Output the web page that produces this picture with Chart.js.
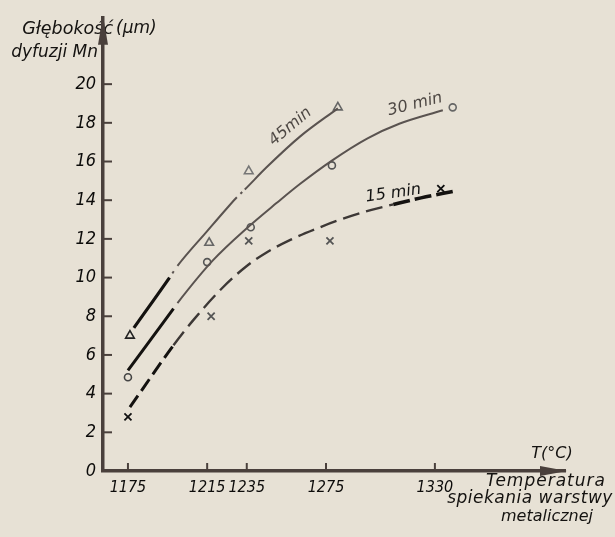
<!DOCTYPE html>
<html><head><meta charset="utf-8">
<script src="https://cdn.jsdelivr.net/npm/chart.js@4"></script>
<style>html,body{margin:0;padding:0;background:#e7e1d5;}#wrap{width:615px;height:537px;}</style>
</head><body><div id="wrap"><canvas id="c" width="615" height="537"></canvas></div>
<script>
// ---- data ----
const xTicks = [1175, 1215, 1235, 1275, 1330];
const yTicks = [0, 2, 4, 6, 8, 10, 12, 14, 16, 18, 20];

const curve45X = [1178, 1196, 1200, 1215, 1226, 1230, 1234, 1245, 1262, 1281];
const curve45Y = [7.4, 10.0, 10.6, 12.4, 13.7, 14.15, 14.55, 15.7, 17.3, 18.75];
const curve30X = [1175, 1198, 1200, 1218, 1235, 1250, 1262, 1278, 1296, 1312, 1334];
const curve30Y = [5.2, 8.4, 8.68, 10.9, 12.55, 13.85, 14.85, 16.05, 17.2, 17.95, 18.65];
const curve15X = [1176, 1198, 1208, 1223, 1235, 1245, 1257, 1272, 1281, 1298, 1309, 1323, 1339];
const curve15Y = [3.3, 6.5, 7.8, 9.5, 10.6, 11.3, 11.95, 12.6, 12.95, 13.5, 13.78, 14.12, 14.45];

const pts45X = [1176, 1216, 1236, 1281];
const pts45Y = [7.0, 11.8, 15.5, 18.8];
const pts30X = [1175, 1215, 1237, 1278, 1339];
const pts30Y = [4.85, 10.8, 12.6, 15.8, 18.8];
const pts15X = [1175, 1217, 1236, 1277, 1333];
const pts15Y = [2.8, 8.0, 11.9, 11.9, 14.6];

const seriesLabels = ['45min', '30 min', '15 min'];
const seriesLabelPos = [[1257, 17.8, -40], [1320, 18.95, -14], [1309, 14.35, -8]];

// ---- style ----
const axisColor = '#4a403c';
const FONT = "'DejaVu Sans', 'Liberation Sans', sans-serif";
const FONTC = "'DejaVu Sans Condensed', 'DejaVu Sans', sans-serif";
const xy = (xs, ys) => xs.map((x, i) => ({x, y: ys[i]}));

const decor = {
  id: 'decor',
  beforeDraw(chart) {
    const ctx = chart.ctx;
    ctx.save();
    ctx.fillStyle = '#141210';
    ctx.font = 'italic 17.5px ' + FONT;
    ctx.textBaseline = 'middle';
    ctx.textAlign = 'right';
    ctx.fillText('Głębokość', 113, 29);
    ctx.font = 'italic 17px ' + FONT;
    ctx.fillText('dyfuzji Mn', 98, 53);
    ctx.textAlign = 'left';
    ctx.fillText('(μm)', 116, 29);
    ctx.restore();
  },
  afterDraw(chart) {
    const {ctx, chartArea: a, scales: {x, y}} = chart;
    ctx.save();
    ctx.strokeStyle = axisColor; ctx.lineWidth = 2;
    yTicks.forEach(v => { if (v === 0) return; const py = y.getPixelForValue(v);
      ctx.beginPath(); ctx.moveTo(a.left, py); ctx.lineTo(a.left + 9, py); ctx.stroke(); });
    xTicks.forEach(v => { const px = x.getPixelForValue(v);
      ctx.beginPath(); ctx.moveTo(px, a.bottom); ctx.lineTo(px, a.bottom - 8); ctx.stroke(); });
    ctx.fillStyle = axisColor;
    ctx.beginPath(); ctx.moveTo(a.left, a.top - 2); ctx.lineTo(a.left - 5, a.top + 27); ctx.lineTo(a.left + 5, a.top + 27); ctx.closePath(); ctx.fill();
    ctx.beginPath(); ctx.moveTo(a.right + 2, a.bottom); ctx.lineTo(a.right - 25, a.bottom - 5); ctx.lineTo(a.right - 25, a.bottom + 5); ctx.closePath(); ctx.fill();

    ctx.fillStyle = '#141210';
    ctx.textAlign = 'center'; ctx.textBaseline = 'middle';
    ctx.font = 'italic 16px ' + FONT;
    ctx.fillText('T(°C)', 552, 454);
    ctx.font = 'italic 17px ' + FONT;
    ctx.letterSpacing = '1px';
    ctx.fillText('Temperatura', 546, 482);
    ctx.letterSpacing = '0.5px';
    ctx.fillText('spiekania warstwy', 530, 499);
    ctx.letterSpacing = '0px';
    ctx.font = 'italic 16px ' + FONT;
    ctx.fillText('metalicznej', 547, 517);

    const cols = ['#4e4844', '#4e4844', '#111'];
    seriesLabels.forEach((t, i) => {
      const [dx, dy, rot] = seriesLabelPos[i];
      ctx.save();
      ctx.translate(x.getPixelForValue(dx), y.getPixelForValue(dy));
      ctx.rotate(rot * Math.PI / 180);
      ctx.fillStyle = cols[i];
      ctx.font = 'italic 16px ' + FONT;
      ctx.fillText(t, 0, 0);
      ctx.restore();
    });
    ctx.restore();
  }
};

const lineBase = {showLine: true, pointRadius: 0, fill: false, cubicInterpolationMode: 'monotone', borderColor: '#5a5350', borderWidth: 2};

new Chart(document.getElementById('c'), {
  type: 'scatter',
  data: {datasets: [
    Object.assign({}, lineBase, {data: xy(curve45X, curve45Y), segment: {
      borderColor: c => c.p0.parsed.x < 1196 ? '#141210' : '#5a5350',
      borderWidth: c => c.p0.parsed.x < 1196 ? 3.2 : 2,
      borderDash: c => (c.p0.parsed.x === 1196 || c.p0.parsed.x === 1230) ? [0, 5, 2.5, 60] : []
    }}),
    Object.assign({}, lineBase, {data: xy(curve30X, curve30Y), segment: {
      borderColor: c => c.p0.parsed.x < 1198 ? '#141210' : (c.p0.parsed.x === 1198 ? 'rgba(0,0,0,0)' : '#5a5350'),
      borderWidth: c => c.p0.parsed.x < 1198 ? 3 : 2
    }}),
    Object.assign({}, lineBase, {data: xy(curve15X, curve15Y), segment: {
      borderColor: c => (c.p0.parsed.x < 1198 || c.p0.parsed.x >= 1309) ? '#141210' : '#3d3836',
      borderWidth: c => c.p0.parsed.x < 1198 ? 3 : (c.p0.parsed.x >= 1309 ? 3.5 : 2.4),
      borderDash: c => c.p0.parsed.x < 1198 ? [14, 6] : (c.p0.parsed.x >= 1309 ? [17, 5] : [17, 7])
    }}),
    {data: xy(pts45X, pts45Y), pointStyle: 'triangle', pointRadius: 5, borderWidth: 1.6,
      pointBorderColor: ['#222', '#666', '#777', '#666'], backgroundColor: 'rgba(0,0,0,0)'},
    {data: xy(pts30X, pts30Y), pointStyle: 'circle', pointRadius: 3.5, borderWidth: 1.6,
      pointBorderColor: ['#444', '#555', '#555', '#555', '#666'], backgroundColor: 'rgba(0,0,0,0)'},
    {data: xy(pts15X, pts15Y), pointStyle: 'crossRot', pointRadius: 5, borderWidth: 1.8,
      pointBorderColor: ['#111', '#555', '#555', '#555', '#111'], backgroundColor: 'rgba(0,0,0,0)'}
  ]},
  options: {
    responsive: false, animation: false,
    layout: {padding: {top: 13, right: 50, left: 0, bottom: 0}},
    plugins: {legend: {display: false}, tooltip: {enabled: false}},
    scales: {
      x: {type: 'linear', min: 1162.4, max: 1395.7,
        afterBuildTicks: s => { s.ticks = xTicks.map(v => ({value: v})); },
        afterFit: s => { s.height = 66; },
        grid: {display: true, drawOnChartArea: false, drawTicks: false},
        border: {display: true, color: axisColor, width: 3.5},
        ticks: {padding: 7, color: '#0c0b0a', autoSkip: false, maxRotation: 0, callback: v => String(v),
          font: {family: FONTC, size: 16, style: 'italic'}}},
      y: {type: 'linear', min: 0, max: 23.43,
        afterBuildTicks: s => { s.ticks = yTicks.map(v => ({value: v})); },
        afterFit: s => { s.width = 103; },
        grid: {display: true, drawOnChartArea: false, drawTicks: false},
        border: {display: true, color: axisColor, width: 3.5},
        ticks: {padding: 7, color: '#0c0b0a', callback: v => String(v),
          font: {family: FONTC, size: 18, style: 'italic'}}}
    }
  },
  plugins: [decor]
});
</script></body></html>
